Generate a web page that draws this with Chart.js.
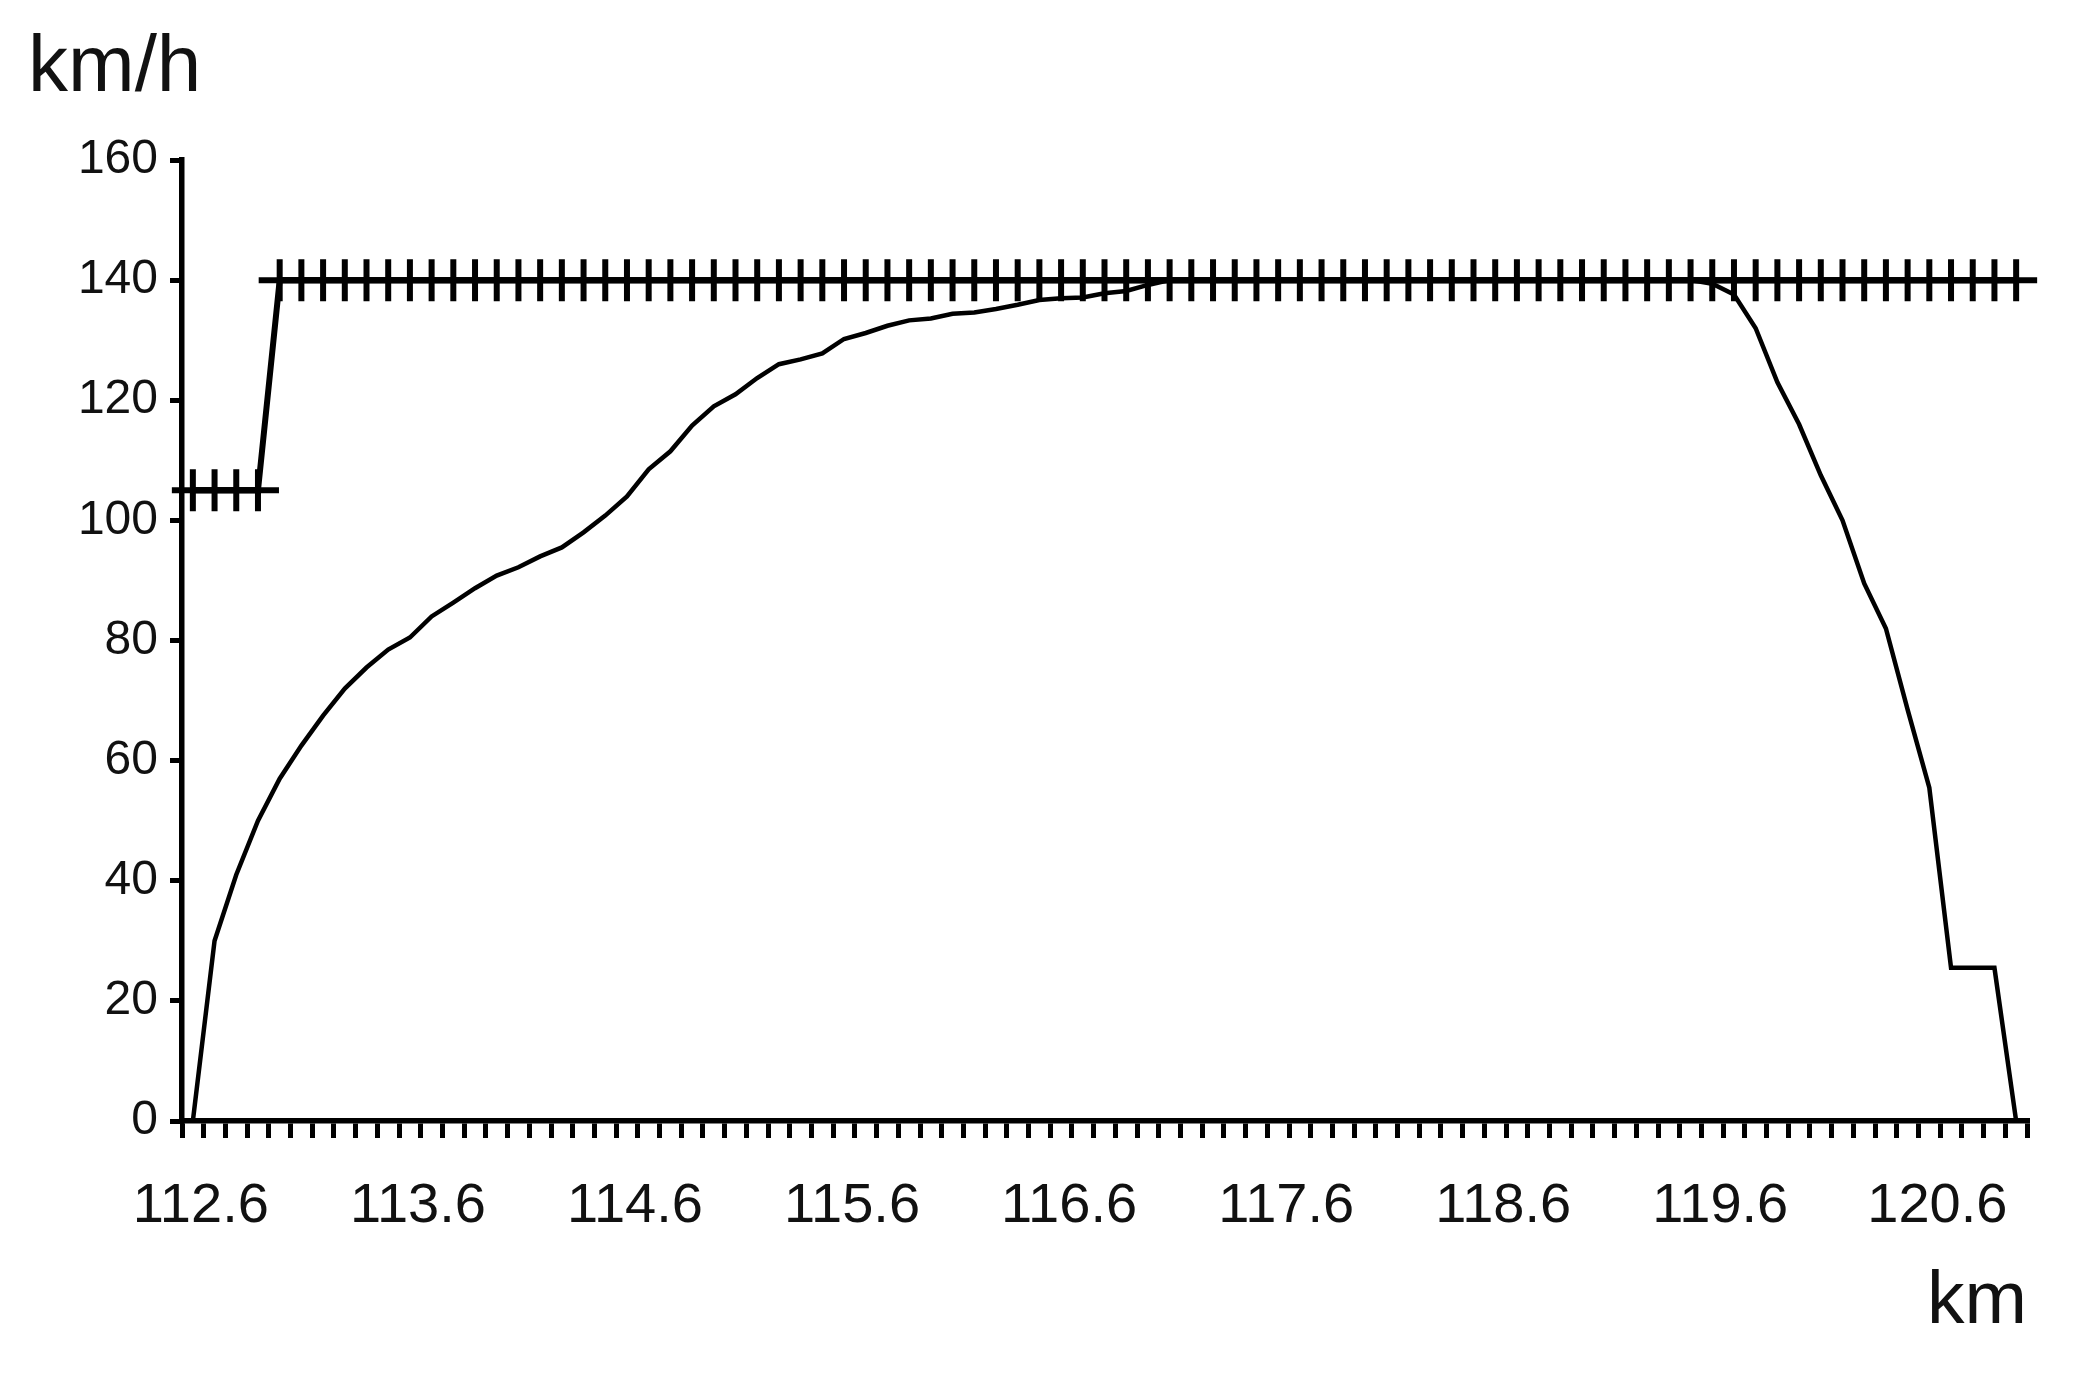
<!DOCTYPE html>
<html>
<head>
<meta charset="utf-8">
<script src="https://cdn.jsdelivr.net/npm/chart.js@4.4.1/dist/chart.umd.min.js"></script>
<style>
  html, body { margin: 0; padding: 0; background: #fff; }
</style>
</head>
<body>
<canvas id="grafica" width="2082" height="1377"></canvas>
<script>
// puntos kilométricos (cada 0.1 km)
const kmLabels = [
  "112.6","112.7","112.8","112.9","113.0","113.1","113.2","113.3","113.4","113.5",
  "113.6","113.7","113.8","113.9","114.0","114.1","114.2","114.3","114.4","114.5",
  "114.6","114.7","114.8","114.9","115.0","115.1","115.2","115.3","115.4","115.5",
  "115.6","115.7","115.8","115.9","116.0","116.1","116.2","116.3","116.4","116.5",
  "116.6","116.7","116.8","116.9","117.0","117.1","117.2","117.3","117.4","117.5",
  "117.6","117.7","117.8","117.9","118.0","118.1","118.2","118.3","118.4","118.5",
  "118.6","118.7","118.8","118.9","119.0","119.1","119.2","119.3","119.4","119.5",
  "119.6","119.7","119.8","119.9","120.0","120.1","120.2","120.3","120.4","120.5",
  "120.6","120.7","120.8","120.9","121.0"
];

// etiquetas visibles en el eje x
const tickLabels = ["112.6","113.6","114.6","115.6","116.6","117.6","118.6","119.6","120.6"];

// velocidad del tren (km/h)
const velocidad = [
  0, 30, 41, 50, 57, 62.5, 67.5, 72, 75.5, 78.5,
  80.5, 84, 86.3, 88.7, 90.8, 92.2, 94, 95.5, 98, 100.8,
  104, 108.5, 111.5, 115.8, 119, 121, 123.7, 126, 126.8, 127.8,
  130.2, 131.2, 132.4, 133.3, 133.6, 134.4, 134.6, 135.2, 135.9, 136.7,
  137, 137.1, 137.8, 138.2, 139.2, 140, 140, 140, 140, 140,
  140, 140, 140, 140, 140, 140, 140, 140, 140, 140,
  140, 140, 140, 140, 140, 140, 140, 140, 140, 140,
  139.4, 137.6, 132, 123, 116, 107.5, 100, 89.5, 82, 68.5,
  55.5, 25.5, 25.5, 25.5, 0
];

// límite de velocidad (km/h)
const limite = [
  105, 105, 105, 105, 140, 140, 140, 140, 140, 140,
  140, 140, 140, 140, 140, 140, 140, 140, 140, 140,
  140, 140, 140, 140, 140, 140, 140, 140, 140, 140,
  140, 140, 140, 140, 140, 140, 140, 140, 140, 140,
  140, 140, 140, 140, 140, 140, 140, 140, 140, 140,
  140, 140, 140, 140, 140, 140, 140, 140, 140, 140,
  140, 140, 140, 140, 140, 140, 140, 140, 140, 140,
  140, 140, 140, 140, 140, 140, 140, 140, 140, 140,
  140, 140, 140, 140, 140
];

const fuente = "'Liberation Sans', Arial, sans-serif";
const ctx = document.getElementById("grafica").getContext("2d");

new Chart(ctx, {
  type: "line",
  data: {
    labels: kmLabels,
    datasets: [
      {
        label: "Velocidad",
        data: velocidad,
        borderColor: "#000",
        borderWidth: 4.5,
        pointRadius: 0,
        tension: 0,
        clip: false,
        order: 1
      },
      {
        label: "Límite",
        data: limite,
        borderColor: "#000",
        borderWidth: 6,
        pointStyle: "cross",
        pointRadius: 21,
        pointBorderWidth: 6,
        pointBorderColor: "#000",
        pointBackgroundColor: "#000",
        tension: 0,
        clip: false,
        order: 2
      }
    ]
  },
  options: {
    responsive: false,
    animation: false,
    layout: { padding: { left: 28, right: 55, top: 0, bottom: 0 } },
    plugins: {
      legend: { display: false },
      tooltip: { enabled: false },
      title: {
        display: true,
        text: "km/h",
        align: "start",
        color: "#111",
        font: { family: fuente, size: 80, weight: "normal" },
        padding: { top: 21, bottom: 43 }
      }
    },
    scales: {
      x: {
        type: "category",
        offset: true,
        grid: { offset: true, drawOnChartArea: false, drawTicks: true, tickLength: 17, color: "#000", lineWidth: 5 },
        border: { display: true, color: "#000", width: 5.5 },
        ticks: {
          autoSkip: false,
          maxRotation: 0,
          minRotation: 0,
          padding: 35,
          labelOffset: 8,
          color: "#111",
          font: { family: fuente, size: 56 },
          callback: (v, i) => tickLabels.includes(kmLabels[i]) ? kmLabels[i] : ""
        },
        title: {
          display: true,
          text: "km",
          align: "end",
          color: "#111",
          font: { family: fuente, size: 75 },
          padding: { top: 0, bottom: 30 }
        },
        afterFit: s => { s.height = 256; }
      },
      y: {
        min: 0,
        max: 160,
        ticks: { stepSize: 20, padding: 12, color: "#111", font: { family: fuente, size: 48 } },
        grid: { drawOnChartArea: false, tickLength: 12, color: "#000", lineWidth: 5 },
        border: { display: true, color: "#000", width: 5.5 },
        afterFit: s => { s.width = 154; }
      }
    }
  }
});
</script>
</body>
</html>
